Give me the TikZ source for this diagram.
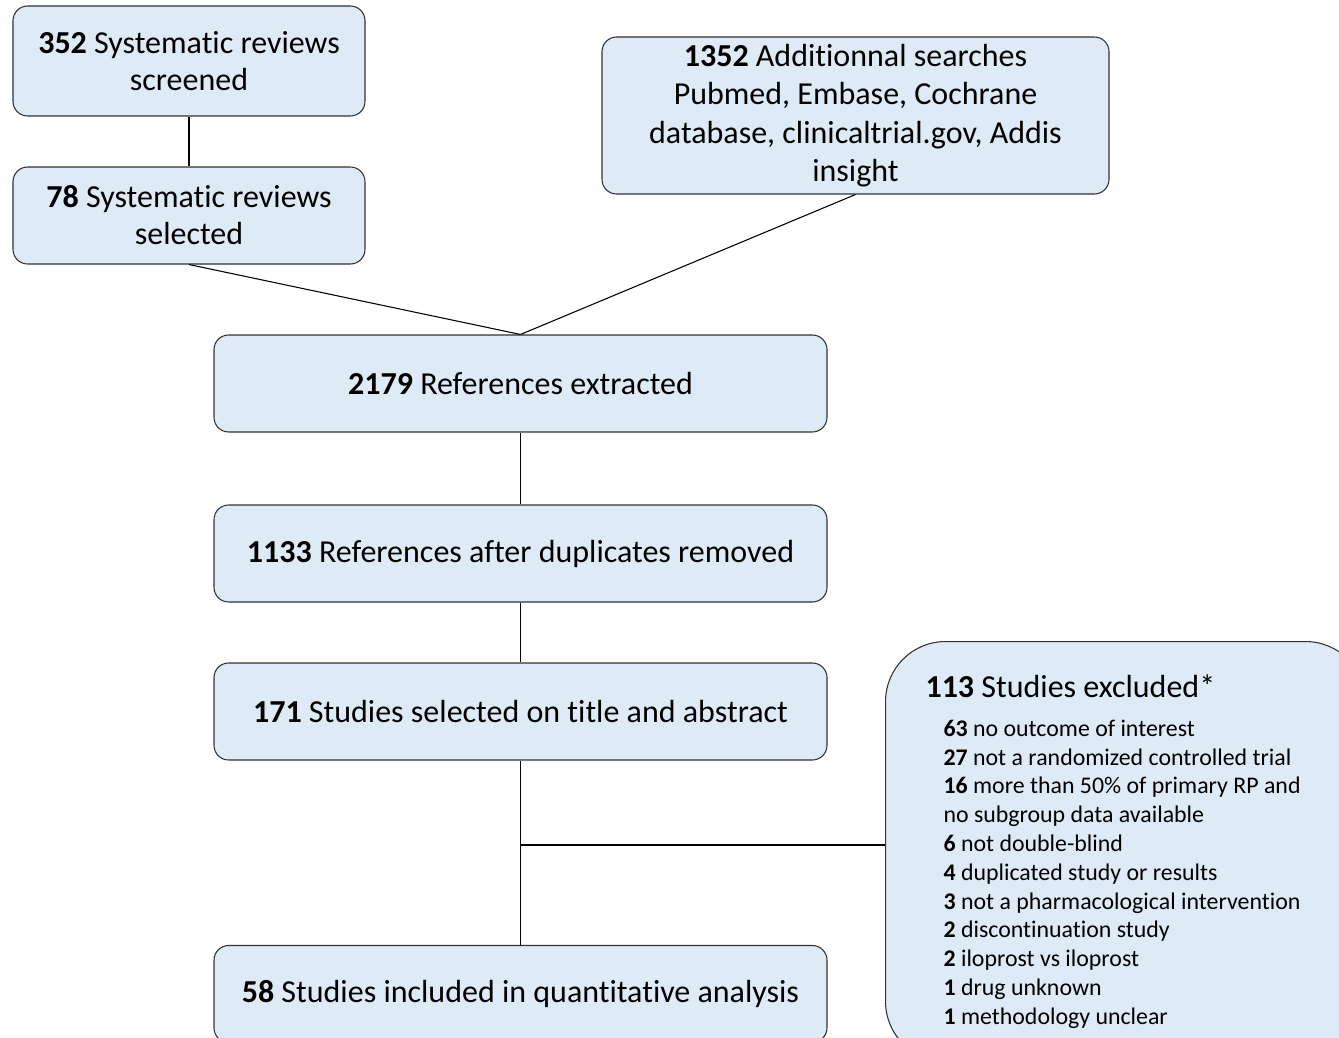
\documentclass[tikz,border=0pt]{standalone}
\usepackage{fontspec}
\setmainfont[Ligatures={NoCommon,NoRequired,NoContextual}]{Carlito}
\definecolor{boxfill}{RGB}{222,235,247}
\definecolor{boxline}{RGB}{50,50,50}

\begin{document}
\begin{tikzpicture}[x=0.75pt,y=0.75pt,yscale=-1,xscale=1,
  stepbox/.style={draw=boxline, fill=boxfill, line width=0.8pt, rounded corners=11pt, align=center, inner sep=0pt, font=\fontsize{24}{27.75}\selectfont},
  widebox/.style={stepbox, minimum width=459.75pt, minimum height=72.75pt},
  link/.style={draw=black, line width=0.8pt}]
\useasboundingbox (0,0) rectangle (1339,1038);
\clip (0,0) rectangle (1339,1038);

% reviews and searches
\node[stepbox, minimum width=264pt, minimum height=82.5pt] (screened) at (189,61) {\textbf{352} Systematic reviews\\screened};
\node[stepbox, minimum width=264pt, minimum height=72.75pt] (selected) at (189,215.5) {\textbf{78} Systematic reviews\\selected};
\node[stepbox, minimum width=380.25pt, minimum height=117.75pt, font=\fontsize{24}{28.75}\selectfont] (searches) at (855.5,115.5) {\textbf{1352} Additionnal searches\\Pubmed, Embase, Cochrane\\database, clinicaltrial.gov, Addis\\insight};

% main column
\node[widebox] (extracted) at (520.5,383.5) {\textbf{2179} References extracted};
\node[widebox] (dedup) at (520.5,553.5) {\textbf{1133} References after duplicates removed};
\node[widebox] (titleabs) at (520.5,711.5) {\textbf{171} Studies selected on title and abstract};
\node[widebox] (included) at (520.5,994) {\textbf{58} Studies included in quantitative analysis};

% exclusions
\node[stepbox, rounded corners=45pt, anchor=north west, align=flush left, inner xsep=30pt, text width=300pt, minimum height=315pt, font=\fontsize{17.9}{21.6}\selectfont] (excluded) at (885,641) {{\fontsize{24}{27.75}\selectfont\textbf{113} Studies excluded*}\\[7.5pt]
\hspace*{13.5pt}\textbf{63} no outcome of interest\\
\hspace*{13.5pt}\textbf{27} not a randomized controlled trial\\
\hspace*{13.5pt}\textbf{16} more than 50\% of primary RP and\\
\hspace*{13.5pt}no subgroup data available\\
\hspace*{13.5pt}\textbf{6} not double-blind\\
\hspace*{13.5pt}\textbf{4} duplicated study or results\\
\hspace*{13.5pt}\textbf{3} not a pharmacological intervention\\
\hspace*{13.5pt}\textbf{2} discontinuation study\\
\hspace*{13.5pt}\textbf{2} iloprost vs iloprost\\
\hspace*{13.5pt}\textbf{1} drug unknown\\
\hspace*{13.5pt}\textbf{1} methodology unclear};

\coordinate (branch) at (520.5,845);

\draw[link] (screened) -- (selected);
\draw[link] (selected.south) -- (extracted.north);
\draw[link] (searches.south) -- (extracted.north);
\draw[link] (extracted) -- (dedup);
\draw[link] (dedup) -- (titleabs);
\draw[link] (titleabs) -- (included);
\draw[link] (branch) -- (branch -| excluded.west);

\end{tikzpicture}
\end{document}
